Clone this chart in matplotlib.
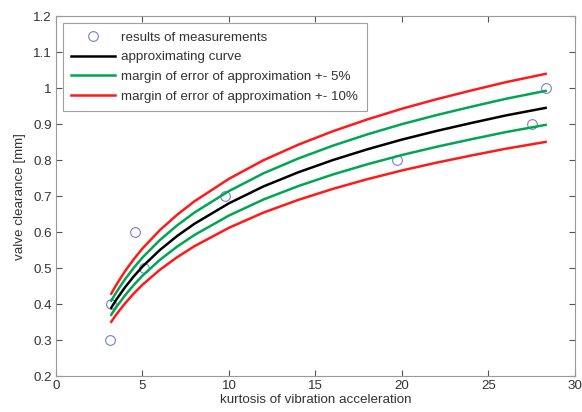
import numpy as np
import matplotlib
matplotlib.use('Agg')
import matplotlib.pyplot as plt

plt.rcParams['font.family'] = ['Liberation Sans', 'DejaVu Sans']

# measured points
meas_x = [3.1, 3.2, 4.6, 5.1, 9.8, 19.7, 27.5, 28.3]
meas_y = [0.30, 0.40, 0.60, 0.50, 0.70, 0.80, 0.90, 1.00]

# approximating curve
curve_x = [3.2, 3.5, 4, 4.5, 5, 6, 7, 8, 10, 12, 14, 16, 18, 20, 22, 24, 26, 28.3]
curve_y = [0.390, 0.413, 0.447, 0.477, 0.504, 0.550, 0.589, 0.623, 0.680,
           0.727, 0.766, 0.800, 0.830, 0.857, 0.881, 0.903, 0.924, 0.945]

cy = np.array(curve_y)
grey = '#555555'
fs = 9.6

fig = plt.figure(figsize=(5.82, 4.12), dpi=100)
ax = fig.add_axes([0.096, 0.087, 0.892, 0.874])

ax.plot(meas_x, meas_y, 'o', mfc='none', mec='#7b7bd0', ms=7, mew=0.8,
        label='results of measurements')
ax.plot(curve_x, cy, color='black', lw=1.8, label='approximating curve')
ax.plot(curve_x, cy * 1.05, color='#00a651', lw=1.8,
        label='margin of error of approximation +- 5%')
ax.plot(curve_x, cy * 0.95, color='#00a651', lw=1.8)
ax.plot(curve_x, cy * 1.10, color='#ff1a1a', lw=1.8,
        label='margin of error of approximation +- 10%')
ax.plot(curve_x, cy * 0.90, color='#ff1a1a', lw=1.8)

ax.set_xlim(0, 30)
ax.set_ylim(0.2, 1.2)
ax.set_xticks(range(0, 31, 5))
ax.set_yticks(np.round(np.arange(0.2, 1.21, 0.1), 1))
ax.set_yticklabels(['0.2', '0.3', '0.4', '0.5', '0.6', '0.7', '0.8', '0.9', '1', '1.1', '1.2'])
ax.tick_params(direction='in', length=4, colors=grey, labelcolor='#333333',
               labelsize=fs, top=True, right=True, pad=3)
for s in ax.spines.values():
    s.set_color('#999999')

ax.set_xlabel('kurtosis of vibration acceleration', fontsize=fs, color='#333333', labelpad=1)
ax.set_ylabel('valve clearance [mm]', fontsize=fs, color='#333333', labelpad=5)

leg = ax.legend(loc='upper left', fontsize=fs, frameon=True, fancybox=False,
                edgecolor='#888888', borderaxespad=0.5, handlelength=3.3,
                handletextpad=0.45, labelspacing=0.55, borderpad=0.65)
leg.get_frame().set_linewidth(0.8)
for t in leg.get_texts():
    t.set_color('#333333')

fig.savefig('out.png', dpi=100)
